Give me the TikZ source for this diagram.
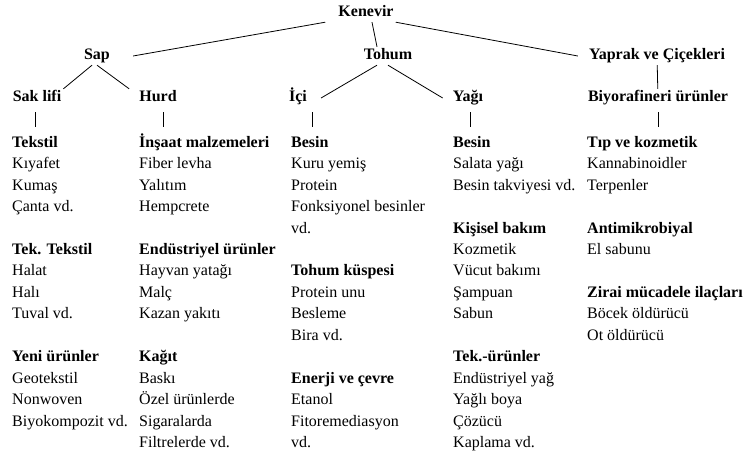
\documentclass[tikz,border=0pt]{standalone}
\usepackage{fontspec}
\setmainfont{Liberation Serif}
\usepackage{tikz}

\newcommand{\gap}{\\[21.45pt]}
\newcommand{\topline}{\rule{0pt}{14pt}}

\begin{document}
\begin{tikzpicture}[x=1pt, y=-1pt,
  lvl/.style={
    font=\fontsize{16}{21.45}\selectfont\bfseries,
    inner sep=2pt, text height=11pt, text depth=3pt, anchor=base
  },
  listcol/.style={
    font=\fontsize{16}{21.45}\selectfont,
    align=left, anchor=north west, inner sep=0pt
  },
  link/.style={line width=0.8pt},
  tick/.style={link, shorten <=5pt, shorten >=6pt},
]
\useasboundingbox (0,0) rectangle (747,457);

%% -- Tree levels --------------------------------------------------------------
\node[lvl] (kenevir) at (366,17)  {Kenevir};
\node[lvl] (sap)     at (97,60)   {Sap};
\node[lvl] (tohum)   at (388,60)  {Tohum};
\node[lvl] (yaprak)  at (657,60)  {Yaprak ve Çiçekleri};

\node[lvl] (saklifi) at (37,102)  {Sak lifi};
\node[lvl] (hurd)    at (158,102) {Hurd};
\node[lvl] (ici)     at (298,102) {İçi};
\node[lvl] (yagi)    at (468,102) {Yağı};
\node[lvl] (biyo)    at (658,102) {Biyorafineri ürünler};

%% -- Product lists (first baseline at y = 147) -----------------------------------
\node[listcol] (colsak) at (12,133) {%
  \topline\textbf{Tekstil}\\ Kıyafet\\ Kumaş\\ Çanta vd.\gap
  \textbf{Tek. Tekstil}\\ Halat\\ Halı\\ Tuval vd.\gap
  \textbf{Yeni ürünler}\\ Geotekstil\\ Nonwoven\\ Biyokompozit vd.};
\node[listcol] (colhurd) at (139,133) {%
  \topline\textbf{İnşaat malzemeleri}\\ Fiber levha\\ Yalıtım\\ Hempcrete\gap
  \textbf{Endüstriyel ürünler}\\ Hayvan yatağı\\ Malç\\ Kazan yakıtı\gap
  \textbf{Kağıt}\\ Baskı\\ Özel ürünlerde\\ Sigaralarda\\ Filtrelerde vd.};
\node[listcol] (colici) at (291,133) {%
  \topline\textbf{Besin}\\ Kuru yemiş\\ Protein\\ Fonksiyonel besinler\\ vd.\gap
  \textbf{Tohum küspesi}\\ Protein unu\\ Besleme\\ Bira vd.\gap
  \textbf{Enerji ve çevre}\\ Etanol\\ Fitoremediasyon\\ vd.};
\node[listcol] (colyagi) at (453,133) {%
  \topline\textbf{Besin}\\ Salata yağı\\ Besin takviyesi vd.\gap
  \textbf{Kişisel bakım}\\ Kozmetik\\ Vücut bakımı\\ Şampuan\\ Sabun\gap
  \textbf{Tek.-ürünler}\\ Endüstriyel yağ\\ Yağlı boya\\ Çözücü\\ Kaplama vd.};
\node[listcol] (colbiyo) at (587,133) {%
  \topline\textbf{Tıp ve kozmetik}\\ Kannabinoidler\\ Terpenler\gap
  \textbf{Antimikrobiyal}\\ El sabunu\gap
  \textbf{Zirai mücadele ilaçları}\\ Böcek öldürücü\\ Ot öldürücü};

%% -- Branches -----------------------------------------------------------------
\draw[link] ([xshift=-11pt]kenevir.south west) -- ([xshift=21pt]sap.east);
\draw[link] ([xshift=6pt]kenevir.south)        -- ([xshift=-11pt]tohum.north);
\draw[link] (kenevir.south east)               -- ([xshift=-9pt]yaprak.west);

\draw[link] ([xshift=-5pt]sap.south)    -- (saklifi.north east);
\draw[link] (sap.south)                 -- ([xshift=-8pt]hurd.north west);
\draw[link] ([xshift=-11pt]tohum.south) -- ([xshift=12pt]ici.east);
\draw[link] (tohum.south)               -- ([xshift=-8pt]yagi.west);
\draw[link] (yaprak)                    -- (biyo);

%% -- Ticks down to the lists --------------------------------------------------
\coordinate (tsak)  at (35,0);
\coordinate (thurd) at (163,0);
\coordinate (tici)  at (312,0);
\coordinate (tyagi) at (470,0);
\coordinate (tbiyo) at (658,0);
\draw[tick] (saklifi.south -| tsak)  -- (colsak.north -| tsak);
\draw[tick] (hurd.south -| thurd)    -- (colhurd.north -| thurd);
\draw[tick] (ici.south -| tici)      -- (colici.north -| tici);
\draw[tick] (yagi.south -| tyagi)    -- (colyagi.north -| tyagi);
\draw[tick] (biyo.south -| tbiyo)    -- (colbiyo.north -| tbiyo);

\end{tikzpicture}
\end{document}
